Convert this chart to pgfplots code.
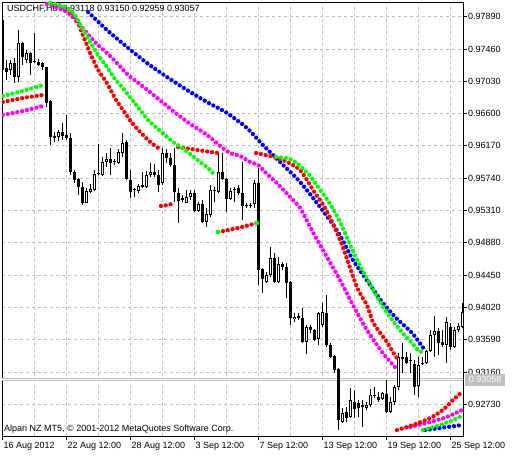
\documentclass[border=0pt]{standalone}
\usepackage{fontspec}
\setmainfont{Liberation Sans}
\usepackage{pgfplots}
\usepackage{pgfplotstable}
\pgfplotsset{compat=1.18}
\definecolor{gridgray}{RGB}{192,192,192}
\definecolor{mtblue}{RGB}{0,0,255}
\definecolor{mtmag}{RGB}{255,0,255}
\definecolor{mtgreen}{RGB}{0,255,0}
\definecolor{mtred}{RGB}{255,0,0}
\newcommand{\mtfont}{\fontsize{9bp}{10bp}\selectfont}

\pgfplotstableread{
i o h l c
0 0.97846 0.97859 0.97167 0.97180
1 0.97207 0.97313 0.97047 0.97154
3 0.97273 0.97340 0.97007 0.97087
5 0.97540 0.97553 0.97247 0.97353
7 0.97406 0.97420 0.97114 0.97273
8 0.97287 0.97673 0.97273 0.97280
9 0.97287 0.97327 0.97233 0.97247
10 0.97273 0.97280 0.97180 0.97220
11 0.97220 0.97225 0.96688 0.96741
12 0.96767 0.96781 0.96182 0.96288
13 0.96288 0.96355 0.96222 0.96281
15 0.96355 0.96475 0.96248 0.96301
16 0.96315 0.96581 0.96248 0.96275
17 0.96275 0.96341 0.95782 0.95822
18 0.95822 0.95849 0.95676 0.95716
19 0.95729 0.95742 0.95516 0.95623
20 0.95623 0.95689 0.95383 0.95410
24 0.95809 0.96195 0.95782 0.95796
27 0.95995 0.96142 0.95782 0.95942
31 0.96222 0.96248 0.95716 0.95729
32 0.95716 0.95849 0.95476 0.95556
35 0.95649 0.95822 0.95609 0.95623
38 0.95822 0.95929 0.95756 0.95782
39 0.95782 0.95849 0.95556 0.95649
41 0.96075 0.96128 0.95942 0.96009
42 0.96009 0.96075 0.95889 0.95915
43 0.95915 0.96142 0.95423 0.95556
44 0.95543 0.95609 0.95143 0.95436
45 0.95463 0.95516 0.95423 0.95456
48 0.95543 0.95583 0.95290 0.95303
50 0.95396 0.95449 0.95143 0.95157
53 0.95583 0.95623 0.95423 0.95569
55 0.95822 0.96075 0.95716 0.95729
56 0.95729 0.95742 0.95290 0.95463
59 0.95609 0.95649 0.95516 0.95543
60 0.95543 0.95955 0.95183 0.95370
61 0.95370 0.95410 0.95343 0.95363
64 0.95676 0.95875 0.94318 0.94517
65 0.94531 0.94544 0.94211 0.94398
68 0.94677 0.94744 0.94344 0.94358
70 0.94597 0.94624 0.94517 0.94557
71 0.94557 0.94611 0.94145 0.94344
72 0.94358 0.94371 0.93785 0.93878
74 0.93892 0.93945 0.93852 0.93885
75 0.93878 0.94012 0.93546 0.93559
77 0.93759 0.93785 0.93679 0.93719
78 0.93719 0.93732 0.93572 0.93586
81 0.93945 0.94185 0.93492 0.93519
82 0.93519 0.93546 0.93346 0.93359
83 0.93373 0.93386 0.93146 0.93186
84 0.93200 0.93213 0.92387 0.92521
86 0.92627 0.92694 0.92494 0.92547
88 0.92760 0.92920 0.92547 0.92667
89 0.92747 0.92787 0.92561 0.92680
90 0.92720 0.92787 0.92427 0.92694
93 0.92853 0.92960 0.92813 0.92845
94 0.92827 0.92893 0.92760 0.92787
96 0.92867 0.93053 0.92614 0.92627
100 0.93359 0.93546 0.93146 0.93333
101 0.93359 0.93426 0.93266 0.93279
102 0.93319 0.93413 0.93146 0.93312
103 0.93266 0.93319 0.92853 0.92960
105 0.93279 0.93359 0.93253 0.93272
109 0.93705 0.93745 0.93386 0.93546
110 0.93559 0.93719 0.93492 0.93519
112 0.93759 0.93812 0.93452 0.93492
}\bear

\pgfplotstableread{
i o h l c
2 0.97180 0.97313 0.97114 0.97273
4 0.97087 0.97713 0.97020 0.97540
6 0.97313 0.97446 0.97273 0.97406
14 0.96288 0.96381 0.96235 0.96355
21 0.95410 0.95609 0.95405 0.95569
22 0.95556 0.95662 0.95543 0.95596
23 0.95583 0.95849 0.95569 0.95796
25 0.95782 0.96022 0.95769 0.95955
26 0.95955 0.96075 0.95889 0.95995
28 0.95955 0.95995 0.95915 0.95969
29 0.95942 0.96128 0.95929 0.96088
30 0.96075 0.96341 0.96022 0.96208
33 0.95576 0.95609 0.95489 0.95583
34 0.95569 0.95662 0.95543 0.95636
36 0.95623 0.95836 0.95609 0.95782
37 0.95782 0.95942 0.95756 0.95822
40 0.95676 0.96142 0.95649 0.96075
46 0.95410 0.95583 0.95405 0.95489
47 0.95489 0.95583 0.95449 0.95543
49 0.95303 0.95423 0.95290 0.95396
51 0.95157 0.95343 0.95090 0.95263
52 0.95250 0.95649 0.95223 0.95583
54 0.95556 0.96075 0.95543 0.95822
57 0.95463 0.95609 0.95449 0.95569
58 0.95576 0.95623 0.95423 0.95583
62 0.95363 0.95410 0.95343 0.95370
63 0.95396 0.95716 0.95343 0.95676
66 0.94358 0.94491 0.94344 0.94451
67 0.94451 0.94824 0.94424 0.94677
69 0.94358 0.94691 0.94344 0.94597
73 0.93865 0.93945 0.93825 0.93892
76 0.93559 0.93785 0.93399 0.93759
79 0.93599 0.93958 0.93519 0.93945
80 0.93785 0.94078 0.93759 0.93958
85 0.92494 0.92680 0.92481 0.92614
87 0.92561 0.92947 0.92547 0.92787
91 0.92680 0.92760 0.92654 0.92720
92 0.92720 0.92933 0.92694 0.92853
95 0.92800 0.92893 0.92787 0.92880
97 0.92627 0.92827 0.92614 0.92760
98 0.92760 0.92987 0.92720 0.92960
99 0.92960 0.93413 0.92920 0.93359
104 0.92973 0.93359 0.92827 0.93253
106 0.93279 0.93452 0.93266 0.93439
107 0.93439 0.93719 0.93426 0.93652
108 0.93652 0.93905 0.93359 0.93705
111 0.93519 0.93892 0.93279 0.93825
113 0.93492 0.93759 0.93479 0.93719
114 0.93719 0.93812 0.93692 0.93772
115 0.93759 0.94078 0.93745 0.93958
}\bull

\begin{document}
\begin{tikzpicture}
\begin{axis}[
  scale only axis, width=461bp, height=434bp,
  xmin=-0.125, xmax=115.125, ymin=0.92308, ymax=0.98085,
  axis line style={line width=0.8bp, black},
  xtick={0,16,...,112},
  xticklabels={16 Aug 2012, 22 Aug 12:00, 28 Aug 12:00, 3 Sep 12:00, 7 Sep 12:00, 13 Sep 12:00, 19 Sep 12:00, 25 Sep 12:00},
  minor xtick={8,24,...,104},
  ytick={0.92730,0.93160,0.93590,0.94020,0.94450,0.94880,0.95310,0.95740,0.96170,0.96600,0.97030,0.97460,0.97890},
  xtick pos=left, ytick pos=right, yticklabel pos=right,
  tick align=outside, major tick length=4bp, minor tick length=0pt,
  tick style={black, line width=0.8bp},
  grid=both,
  major grid style={gridgray, dash pattern=on 3bp off 3bp, line width=0.8bp},
  minor grid style={gridgray, dash pattern=on 3bp off 3bp, line width=0.8bp},
  xticklabel style={anchor=north west, inner sep=0pt, xshift=1bp, yshift=-2bp, font=\mtfont},
  yticklabel style={anchor=west, inner sep=0pt, xshift=1bp, font=\mtfont,
    /pgf/number format/fixed, /pgf/number format/fixed zerofill, /pgf/number format/precision=5},
  /pgf/number format/assume math mode=true,
  scaled y ticks=false,
]
\node[anchor=base west, inner sep=0pt, font=\mtfont] at ([xshift=5bp, yshift=-10bp]rel axis cs:0,1) {USDCHF,H6\ \ 0.93118 0.93150 0.92959 0.93057};
\node[anchor=base west, inner sep=0pt, font=\mtfont] at ([xshift=2bp, yshift=5bp]rel axis cs:0,0) {Alpari NZ MT5, © 2001-2012 MetaQuotes Software Corp.};
\coordinate (pl) at (axis cs:115.125,0.93058);

% current price line
\addplot[gridgray, line width=0.7bp, double=white, double distance=1.3bp, forget plot] coordinates {(-1,0.93058) (117,0.93058)};

% wicks
\addplot[draw=none, forget plot, error bars/.cd, y dir=plus, y explicit, error mark=none,
  error bar style={draw=black, line width=1bp, solid}]
  table[x=i, y=l, y error plus expr=\thisrow{h}-\thisrow{l}] {\bear};
\addplot[draw=none, forget plot, error bars/.cd, y dir=plus, y explicit, error mark=none,
  error bar style={draw=black, line width=1bp, solid}]
  table[x=i, y=l, y error plus expr=\thisrow{h}-\thisrow{l}] {\bull};
% bear bodies
\addplot[draw=none, forget plot, error bars/.cd, y dir=plus, y explicit, error mark=none,
  error bar style={draw=black, line width=3bp, solid}]
  table[x=i, y=c, y error plus expr={max(\thisrow{o}-\thisrow{c},0.00014)}] {\bear};
% bull bodies
\addplot[draw=none, forget plot, error bars/.cd, y dir=plus, y explicit, error mark=none,
  error bar style={draw=black, line width=3bp, solid}]
  table[x=i, y=o, y error plus expr={max(\thisrow{c}-\thisrow{o},0.00014)}] {\bull};
\addplot[draw=none, forget plot, error bars/.cd, y dir=plus, y explicit, error mark=none,
  error bar style={draw=white, line width=1bp, solid}]
  table[x=i, y expr=\thisrow{o}+0.000133, y error plus expr={max(\thisrow{c}-\thisrow{o}-0.000266,0)}] {\bull};

\tikzset{mtdots/.style={line width=4.3bp, line cap=round, dash pattern=on 0bp off 4.9bp, smooth, tension=0.4}}

% magenta
\addplot[mtmag, mtdots, forget plot] coordinates {(0.1,0.96581)(5.1,0.96634)(10.1,0.96701)};
\addplot[mtmag, mtdots, forget plot] coordinates {(11.1,0.98059)(16.1,0.97952)(18.9,0.97806)(23.1,0.97553)(27.4,0.97340)(31.4,0.97114)(35.6,0.96940)(39.9,0.96754)(43.9,0.96581)(48.1,0.96421)(50.1,0.96355)(52.4,0.96262)(54.4,0.96168)(56.9,0.96075)(59.4,0.96035)(61.9,0.95955)(63.9,0.95915)(65.6,0.95822)(68.6,0.95676)(71.9,0.95489)(74.4,0.95343)(77.6,0.95023)(81.1,0.94691)(84.4,0.94384)(87.6,0.94052)(91.1,0.93719)(94.9,0.93426)(98.1,0.93226)};
\addplot[mtmag, mtdots, forget plot] coordinates {(101.9,0.92427)(106.9,0.92494)(111.1,0.92561)(114.9,0.92654)};

% blue
\addplot[mtblue, mtdots, forget plot] coordinates {(21.4,0.97952)(26.1,0.97713)(31.1,0.97486)(36.1,0.97273)(41.1,0.97087)(46.1,0.96914)(51.1,0.96754)(56.1,0.96608)(61.1,0.96408)(65.1,0.96182)(69.4,0.95955)(74.4,0.95689)(79.4,0.95356)(83.9,0.95023)(87.6,0.94651)(91.4,0.94358)(95.1,0.94078)(98.9,0.93852)(102.4,0.93679)(105.6,0.93452)};
\addplot[mtblue, mtdots, forget plot] coordinates {(105.6,0.92387)(111.1,0.92427)(114.9,0.92454)};

% red
\addplot[mtred, mtdots, forget plot] coordinates {(0.1,0.96754)(5.1,0.96807)(10.1,0.96847)};
\addplot[mtred, mtdots, forget plot] coordinates {(13.1,0.98059)(15.9,0.98005)(17.4,0.97939)(18.6,0.97846)(19.9,0.97673)(21.9,0.97406)(23.9,0.97180)(26.1,0.97007)(28.1,0.96807)(30.1,0.96648)(32.4,0.96475)(34.4,0.96355)(36.9,0.96222)(38.9,0.96142)};
\addplot[mtred, mtdots, forget plot] coordinates {(43.9,0.96155)(48.6,0.96115)(53.9,0.96075)};
\addplot[mtred, mtdots, forget plot] coordinates {(39.6,0.95370)(41.4,0.95383)(43.1,0.95410)};
\addplot[mtred, mtdots, forget plot] coordinates {(53.9,0.95023)(58.9,0.95077)(63.6,0.95143)};
\addplot[mtred, mtdots, forget plot] coordinates {(63.4,0.96075)(66.9,0.96035)(70.1,0.95982)(72.6,0.95915)(74.4,0.95849)(76.1,0.95716)(78.1,0.95543)(79.9,0.95410)(82.4,0.95157)(84.9,0.94850)(86.9,0.94544)(88.6,0.94291)(89.9,0.94158)(91.1,0.94052)(92.6,0.93825)(93.9,0.93719)(96.1,0.93559)(97.6,0.93426)(98.9,0.93319)};
\addplot[mtred, mtdots, forget plot] coordinates {(98.6,0.92387)(102.6,0.92454)(106.9,0.92547)(110.1,0.92654)(112.6,0.92787)(114.9,0.92893)};

% green
\addplot[mtgreen, mtdots, forget plot] coordinates {(0.1,0.96834)(5.1,0.96901)(10.1,0.96980)};
\addplot[mtgreen, mtdots, forget plot] coordinates {(11.9,0.98072)(14.9,0.98032)(16.9,0.97979)(18.1,0.97912)(20.6,0.97673)(23.9,0.97380)(26.1,0.97220)(28.1,0.97060)(30.1,0.96940)(32.4,0.96781)(34.4,0.96648)(36.4,0.96514)(38.6,0.96408)(40.6,0.96315)(42.6,0.96222)(44.9,0.96142)(46.9,0.96062)(49.4,0.95955)(51.1,0.95889)(52.6,0.95809)};
\addplot[mtgreen, only marks, mark=*, mark size=2.1bp, mark options={draw=mtgreen, fill=mtgreen}, forget plot] coordinates {(53.9,0.95023)(63.6,0.95143)};
\addplot[mtgreen, mtdots, forget plot] coordinates {(68.4,0.96022)(71.9,0.95995)(74.4,0.95902)(76.9,0.95769)(79.4,0.95583)(81.9,0.95396)(84.4,0.95157)(86.9,0.94850)(89.4,0.94571)(91.9,0.94331)(94.4,0.94091)(96.9,0.93892)(99.4,0.93719)(101.9,0.93572)(103.9,0.93452)(105.4,0.93413)};
\addplot[mtgreen, mtdots, forget plot] coordinates {(105.1,0.92387)(109.4,0.92454)(112.6,0.92521)(114.9,0.92574)};
\end{axis}
\node[anchor=west, fill=gridgray, text=white, inner sep=0pt, minimum width=40bp, minimum height=12bp, font=\mtfont] at ([xshift=2bp]pl) {0.93058};
\pgfresetboundingbox
\path ([shift={(-2bp,-21bp)}]current axis.south west) rectangle ([shift={(53bp,2bp)}]current axis.north east);
\end{tikzpicture}
\end{document}
